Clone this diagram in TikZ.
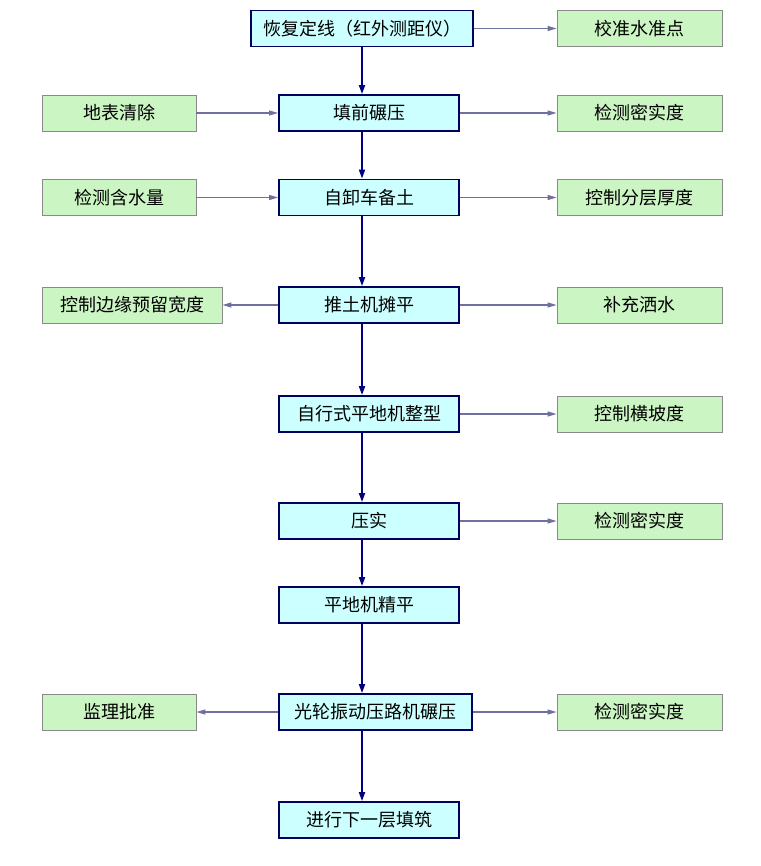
\documentclass[tikz,border=0pt]{standalone}
\usepackage{fontspec}
\newfontfamily\cjk{Noto Sans CJK SC}
\usetikzlibrary{arrows.meta}
\definecolor{mainfill}{HTML}{CCFFFF}
\definecolor{mainline}{HTML}{00005E}
\definecolor{sidefill}{HTML}{CCF5C4}
\definecolor{sideline}{HTML}{8A8A8A}
\definecolor{sidearrow}{HTML}{7070A0}
\definecolor{mainarrow}{HTML}{000080}
\tikzset{
  mainbox/.style={draw=mainline, line width=1.8pt, fill=mainfill, minimum height=36pt, inner sep=0pt, font=\cjk\fontsize{18}{19}\selectfont},
  sidebox/.style={draw=sideline, line width=0.9pt, fill=sidefill, minimum height=36pt, minimum width=165pt, inner sep=0pt, font=\cjk\fontsize{18}{19}\selectfont},
  mainarr/.style={draw=mainarrow, line width=1.8pt, -{Triangle[length=9pt,width=6pt]}},
  sidearr/.style={draw=sidearrow, line width=1.1pt, -{Triangle[length=9pt,width=5pt]}},
}
\begin{document}
\begin{tikzpicture}[x=1pt,y=-1pt]
\fill[white] (0,0) rectangle (760,866);
\useasboundingbox (0,0) rectangle (760,866);
% main column
\node[mainbox, minimum width=222pt] (m1) at (362,28.5) {恢复定线（红外测距仪）};
\node[mainbox, minimum width=180pt] (m2) at (369,113) {填前碾压};
\node[mainbox, minimum width=180pt] (m3) at (369,197.5) {自卸车备土};
\node[mainbox, minimum width=180pt] (m4) at (369,305) {推土机摊平};
\node[mainbox, minimum width=180pt] (m5) at (369,414) {自行式平地机整型};
\node[mainbox, minimum width=180pt] (m6) at (369,521) {压实};
\node[mainbox, minimum width=180pt] (m7) at (369,605) {平地机精平};
\node[mainbox, minimum width=193pt] (m8) at (375.5,712) {光轮振动压路机碾压};
\node[mainbox, minimum width=180pt] (m9) at (369,820) {进行下一层填筑};
% right side
\node[sidebox] (r1) at (639.5,28.5) {校准水准点};
\node[sidebox] (r2) at (639.5,113) {检测密实度};
\node[sidebox] (r3) at (639.5,197.5) {控制分层厚度};
\node[sidebox] (r4) at (639.5,305) {补充洒水};
\node[sidebox] (r5) at (639.5,414) {控制横坡度};
\node[sidebox] (r6) at (639.5,521) {检测密实度};
\node[sidebox] (r8) at (639.5,712) {检测密实度};
% left side
\node[sidebox, minimum width=154pt] (l2) at (119,113) {地表清除};
\node[sidebox, minimum width=154pt] (l3) at (119,197.5) {检测含水量};
\node[sidebox, minimum width=180pt] (l4) at (132,305) {控制边缘预留宽度};
\node[sidebox, minimum width=154pt] (l8) at (119,712) {监理批准};
% vertical arrows
\draw[mainarr] (m1.south) -- (m1.south |- m2.north);
\draw[mainarr] (m2.south -| m1) -- (m3.north -| m1);
\draw[mainarr] (m3.south -| m1) -- (m4.north -| m1);
\draw[mainarr] (m4.south -| m1) -- (m5.north -| m1);
\draw[mainarr] (m5.south -| m1) -- (m6.north -| m1);
\draw[mainarr] (m6.south -| m1) -- (m7.north -| m1);
\draw[mainarr] (m7.south -| m1) -- (m8.north -| m1);
\draw[mainarr] (m8.south -| m1) -- (m9.north -| m1);
% side arrows
\draw[sidearr] (m1.east) -- (r1.west);
\draw[sidearr] (m2.east) -- (r2.west);
\draw[sidearr] (m3.east) -- (r3.west);
\draw[sidearr] (m4.east) -- (r4.west);
\draw[sidearr] (m5.east) -- (r5.west);
\draw[sidearr] (m6.east) -- (r6.west);
\draw[sidearr] (m8.east) -- (r8.west);
\draw[sidearr] (l2.east) -- (m2.west);
\draw[sidearr] (l3.east) -- (m3.west);
\draw[sidearr] (m4.west) -- (l4.east);
\draw[sidearr] (m8.west) -- (l8.east);
\end{tikzpicture}
\end{document}
